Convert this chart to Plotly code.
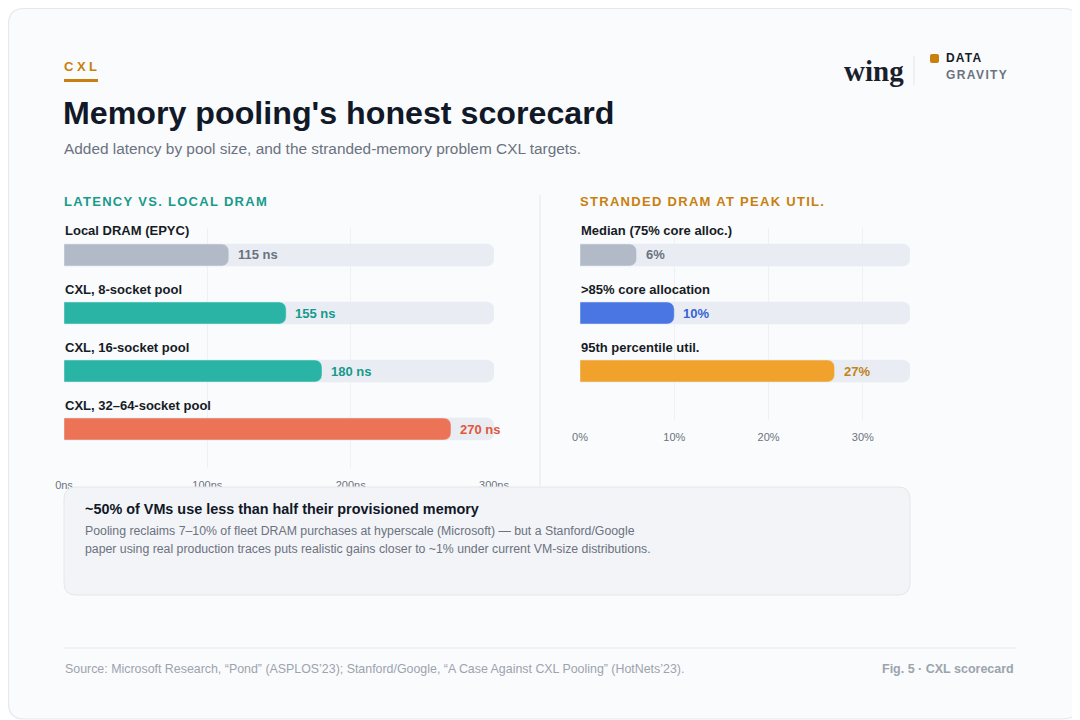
import plotly.graph_objects as go

# page is offset 8px by the browser's body margin, so the figure is 8px smaller
OFF = 8
W, H = 1080 - OFF, 720 - OFF

# ---- data ----
lat_labels = ["Local DRAM (EPYC)", "CXL, 8-socket pool", "CXL, 16-socket pool", "CXL, 32–64-socket pool"]
lat_values = [115, 155, 180, 270]
lat_colors = ["#b3bac7", "#2ab4a6", "#2ab4a6", "#ec7355"]
lat_text_colors = ["#6b7280", "#159a8c", "#159a8c", "#e0573a"]
lat_ticks = [0, 100, 200, 300]
lat_max = 300

str_labels = ["Median (75% core alloc.)", ">85% core allocation", "95th percentile util."]
str_values = [6, 10, 27]
str_colors = ["#b3bac7", "#4a76e3", "#f1a22c"]
str_text_colors = ["#6b7280", "#3563d8", "#c0841a"]
str_ticks = [0, 10, 20, 30]
str_max = 35

FONT = "Liberation Sans, Arial, sans-serif"
TRACK = "#e9edf3"


def px(x):
    # screen pixel -> paper fraction
    return (x - OFF) / W


def py(y):
    return 1 - (y - OFF) / H


def spaced(t, sp):
    return f'<span style="letter-spacing:{sp}px">{t}</span>'


fig = go.Figure()

# row i sits at screen pixel 255 + 58*i
def yrange(bottom_px):
    return [(bottom_px - 255) / 58, (228 - 255) / 58]

BAR_W = 22 / 58

# left panel: latency (tracks on y, values on overlaid y3 so both get rounded ends)
rows = list(range(len(lat_labels)))
fig.add_trace(go.Bar(x=[lat_max] * len(rows), y=rows, orientation="h", width=BAR_W,
                     marker=dict(color=TRACK, cornerradius=7),
                     hoverinfo="skip", xaxis="x", yaxis="y"))
fig.add_trace(go.Bar(x=lat_values, y=rows, orientation="h", width=BAR_W,
                     marker=dict(color=lat_colors, cornerradius=7),
                     hovertext=lat_labels, hoverinfo="text+x", xaxis="x", yaxis="y3"))

# right panel: stranded DRAM
rows2 = list(range(len(str_labels)))
fig.add_trace(go.Bar(x=[str_max] * len(rows2), y=rows2, orientation="h", width=BAR_W,
                     marker=dict(color=TRACK, cornerradius=7),
                     hoverinfo="skip", xaxis="x2", yaxis="y2"))
fig.add_trace(go.Bar(x=str_values, y=rows2, orientation="h", width=BAR_W,
                     marker=dict(color=str_colors, cornerradius=7),
                     hovertext=str_labels, hoverinfo="text+x", xaxis="x2", yaxis="y4"))

ann = []
for i, (lab, v) in enumerate(zip(lat_labels, lat_values)):
    ann.append(dict(x=0, y=i - 24 / 58, xref="x", yref="y", text=f"<b>{lab}</b>", showarrow=False,
                    xanchor="left", yanchor="middle", xshift=-1, font=dict(size=13, color="#161b26")))
    ann.append(dict(x=v, y=i, xref="x", yref="y", text=f"<b>{v} ns</b>", showarrow=False,
                    xanchor="left", yanchor="middle", xshift=7,
                    font=dict(size=13, color=lat_text_colors[i])))
for i, (lab, v) in enumerate(zip(str_labels, str_values)):
    ann.append(dict(x=0, y=i - 24 / 58, xref="x2", yref="y2", text=f"<b>{lab}</b>", showarrow=False,
                    xanchor="left", yanchor="middle", xshift=-1, font=dict(size=13, color="#161b26")))
    ann.append(dict(x=v, y=i, xref="x2", yref="y2", text=f"<b>{v}%</b>", showarrow=False,
                    xanchor="left", yanchor="middle", xshift=7,
                    font=dict(size=13, color=str_text_colors[i])))


def paper_text(x, y, text, size, color, anchor="left", family=FONT):
    ann.append(dict(x=px(x), y=py(y), xref="paper", yref="paper", text=text, showarrow=False,
                    xanchor=anchor, yanchor="middle", font=dict(size=size, color=color, family=family)))


# header
paper_text(62, 67, "<b>" + spaced("CXL", 3.5) + "</b>", 13, "#c8800f")
paper_text(61, 113, "<b>Memory pooling's honest scorecard</b>", 32.2, "#111827")
paper_text(62, 148, "Added latency by pool size, and the stranded-memory problem CXL targets.", 15.4, "#6b7280")
paper_text(62, 201, "<b>" + spaced("LATENCY VS. LOCAL DRAM", 1.3) + "</b>", 13, "#189a8c")
paper_text(578, 201, "<b>" + spaced("STRANDED DRAM AT PEAK UTIL.", 1.3) + "</b>", 13, "#c8800f")

# logo
paper_text(842, 71, "<b>wing</b>", 29, "#1a1f2e", family="Liberation Serif, DejaVu Serif, serif")
paper_text(944, 58, "<b>" + spaced("DATA", 1.2) + "</b>", 12, "#161b26")
paper_text(944, 75, "<b>" + spaced("GRAVITY", 1.4) + "</b>", 12, "#6b7280")

# callout box text
paper_text(83, 509, "<b>~50% of VMs use less than half their provisioned memory</b>", 14.4, "#111827")
paper_text(83, 531, "Pooling reclaims 7–10% of fleet DRAM purchases at hyperscale (Microsoft) — but a Stanford/Google",
           12.3, "#6b7280")
paper_text(83, 549, "paper using real production traces puts realistic gains closer to ~1% under current VM-size distributions.",
           12.3, "#6b7280")

# footer
paper_text(63, 669, "Source: Microsoft Research, “Pond” (ASPLOS’23); Stanford/Google, “A Case Against CXL Pooling” (HotNets’23).",
           12.4, "#9ca3af")
paper_text(1016, 669, "<b>Fig. 5 · CXL scorecard</b>", 12.5, "#9ca3af", anchor="right")


def rounded(x0, y0, x1, y1, r):
    return (f"M {px(x0 + r)},{py(y0)} L {px(x1 - r)},{py(y0)} Q {px(x1)},{py(y0)} {px(x1)},{py(y0 + r)} "
            f"L {px(x1)},{py(y1 - r)} Q {px(x1)},{py(y1)} {px(x1 - r)},{py(y1)} "
            f"L {px(x0 + r)},{py(y1)} Q {px(x0)},{py(y1)} {px(x0)},{py(y1 - r)} "
            f"L {px(x0)},{py(y0 + r)} Q {px(x0)},{py(y0)} {px(x0 + r)},{py(y0)} Z")


shapes = [
    # outer card
    dict(type="path", xref="paper", yref="paper", layer="below", path=rounded(8.5, 8.5, 1079, 719, 16),
         fillcolor="#fafbfc", line=dict(color="#e6e8ec", width=1.2)),
    # CXL underline
    dict(type="line", xref="paper", yref="paper", x0=px(64), x1=px(98), y0=py(80.5), y1=py(80.5),
         line=dict(color="#c8800f", width=3)),
    # logo divider + square
    dict(type="line", xref="paper", yref="paper", x0=px(914), x1=px(914), y0=py(56), y1=py(85),
         line=dict(color="#e2e4e9", width=1)),
    dict(type="path", xref="paper", yref="paper", path=rounded(930, 54, 939, 63, 2),
         fillcolor="#c8800f", line=dict(width=0)),
    # panel divider
    dict(type="line", xref="paper", yref="paper", x0=px(540), x1=px(540), y0=py(195), y1=py(486),
         line=dict(color="#eceef2", width=1.5)),
    # callout box
    dict(type="path", xref="paper", yref="paper", layer="above", path=rounded(64, 487, 910, 595, 12),
         fillcolor="#f3f4f7", line=dict(color="#e4e6eb", width=1)),
    # footer rule
    dict(type="line", xref="paper", yref="paper", x0=px(64), x1=px(1016), y0=py(648), y1=py(648),
         line=dict(color="#e8eaee", width=1.2)),
]

axis_common = dict(showline=False, zeroline=False, showgrid=True, gridcolor="#eef0f4", gridwidth=1,
                   tickfont=dict(size=11, color="#6b7280", family=FONT), ticks="outside", ticklen=7,
                   tickcolor="rgba(0,0,0,0)", fixedrange=True, automargin=False)

fig.update_layout(
    width=W, height=H,
    margin=dict(l=0, r=0, t=0, b=0, pad=0, autoexpand=False),
    paper_bgcolor="#ffffff", plot_bgcolor="rgba(0,0,0,0)",
    font=dict(family=FONT),
    barmode="overlay", showlegend=False,
    xaxis=dict(domain=[px(64), px(494)], range=[0, lat_max], tickvals=lat_ticks,
               ticktext=[f"{t}ns" for t in lat_ticks], anchor="y", **axis_common),
    yaxis=dict(domain=[py(468), py(228)], range=yrange(468), visible=False, anchor="x"),
    yaxis3=dict(range=yrange(468), visible=False, overlaying="y", anchor="x"),
    xaxis2=dict(domain=[px(580), px(910)], range=[0, str_max], tickvals=str_ticks,
                ticktext=[f"{t}%" for t in str_ticks], anchor="y2", **axis_common),
    yaxis2=dict(domain=[py(420), py(228)], range=yrange(420), visible=False, anchor="x2"),
    yaxis4=dict(range=yrange(420), visible=False, overlaying="y2", anchor="x2"),
    annotations=ann,
    shapes=shapes,
)

fig.write_html("out.html")
